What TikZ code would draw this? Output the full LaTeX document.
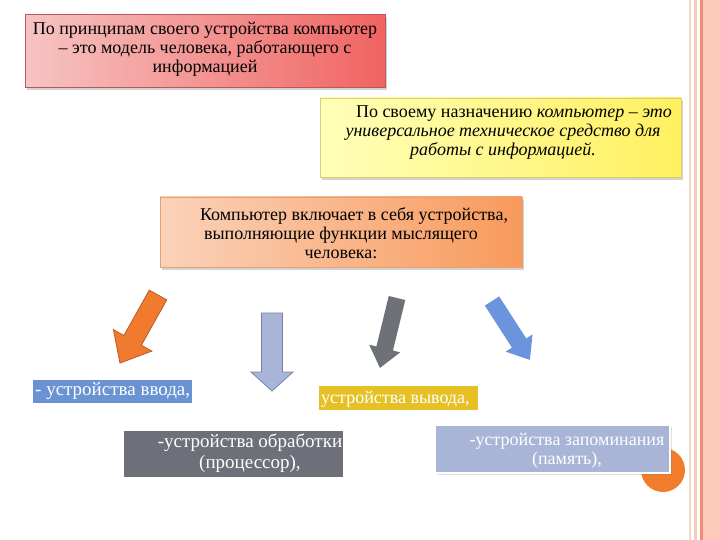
\documentclass[tikz,border=0pt]{standalone}
\usepackage{fontspec}
\setmainfont{Liberation Serif}
\usetikzlibrary{shadows,calc}
\definecolor{redL}{HTML}{F6C4C2}
\definecolor{redR}{HTML}{F06462}
\definecolor{redB}{HTML}{B85858}
\definecolor{yelL}{HTML}{FFFFB8}
\definecolor{yelR}{HTML}{FFF060}
\definecolor{yelB}{HTML}{D8D070}
\definecolor{orgL}{HTML}{FAD2BA}
\definecolor{orgR}{HTML}{F89A5C}
\definecolor{orgB}{HTML}{E8A070}
\definecolor{inBlue}{HTML}{6A93D4}
\definecolor{outGold}{HTML}{E6C126}
\definecolor{procGray}{HTML}{6E7079}
\definecolor{memLav}{HTML}{A9B5D6}
\definecolor{arOrange}{HTML}{F07A2E}
\definecolor{arOrangeB}{HTML}{C05A20}
\definecolor{arLav}{HTML}{A9B5D8}
\definecolor{arLavB}{HTML}{7880A8}
\definecolor{arGray}{HTML}{6E7278}
\definecolor{arBlue}{HTML}{6A94DC}
\definecolor{stripeA}{HTML}{F2D8CA}
\definecolor{stripeB}{HTML}{F4CDBE}
\definecolor{stripeC}{HTML}{F08C74}
\definecolor{stripeD}{HTML}{FCCABA}
\definecolor{circOrange}{HTML}{F27C2A}
\newcommand\fatarrow[8]{%
  \begin{scope}[shift={(#1,#2)}, rotate=#3]
    \path[#8] (0,-#5) -- ({#4-#7},-#5) -- ({#4-#7},-#6) -- (#4,0)
      -- ({#4-#7},#6) -- ({#4-#7},#5) -- (0,#5) -- cycle;
  \end{scope}}
\tikzset{
  txt/.style={font=\fontsize{18}{19}\selectfont, align=center, inner sep=0pt},
  txtb/.style={font=\fontsize{19}{21}\selectfont, align=center, inner sep=0pt},
  bigbox/.style={rectangle, draw, line width=0.6pt, inner sep=0pt,
    drop shadow={opacity=0.35, shadow xshift=2pt, shadow yshift=-3pt}},
  flatbox/.style={rectangle, inner sep=0pt, draw=white, line width=1pt},
}
\begin{document}
\begin{tikzpicture}[x=1pt,y=-1pt]
\useasboundingbox (0,0) rectangle (720,540);
\fill[white] (0,0) rectangle (720,540);
% right decorative stripes
\fill[stripeA] (689,0) rectangle (691,540);
\fill[stripeB] (694,0) rectangle (697,540);
\fill[stripeC] (700,0) rectangle (703,540);
\fill[stripeD] (703,0) rectangle (720,540);

% top boxes
\node[bigbox, draw=redB, left color=redL, right color=redR,
  minimum width=360pt, minimum height=73pt] (b1) at (205,51) {};
\node[txt] (t1) at (205,49) {По принципам своего устройства компьютер\\– это модель человека, работающего с\\информацией};

\node[bigbox, draw=yelB, left color=yelL, right color=yelR,
  minimum width=361pt, minimum height=79pt] (b2) at (500.5,137.5) {};
\node[txt] (t2) at (503,133) {\hspace*{22pt}По своему назначению \textit{компьютер – это}\\\textit{универсальное техническое средство для}\\\textit{работы с информацией.}};

\node[bigbox, draw=orgB, left color=orgL, right color=orgR,
  minimum width=362pt, minimum height=70pt] (b3) at (341,232) {};
\node[txt] (t3) at (341,233) {\hspace*{26pt}Компьютер включает в себя устройства,\\выполняющие функции мыслящего\\человека:};

% arrows
\fatarrow{158}{295}{-119.2}{78}{10}{22}{26}{fill=arOrange, draw=arOrangeB, line width=0.8pt}
\fatarrow{272}{313}{-90}{78}{10.5}{21}{19}{fill=arLav, draw=arLavB, line width=0.8pt}
\fatarrow{397}{298}{-103.7}{72}{8.5}{16}{20}{fill=arGray}
\fatarrow{492}{301}{-57.2}{70}{8.5}{16}{20}{fill=arBlue}

% bottom boxes
\node[flatbox, fill=inBlue, minimum width=160pt, minimum height=24pt] (b4) at (112.5,391) {};
\node[txtb, text=white, anchor=west] (t4) at (35,391) {- устройства ввода,};

\node[flatbox, fill=outGold, minimum width=160pt, minimum height=25pt] (b5) at (398,397.5) {};
\node[txt, text=white, anchor=west] (t5) at (321,399) {устройства вывода,};

\node[flatbox, fill=procGray, minimum width=220pt, minimum height=47pt] (b6) at (233,453.5) {};
\node[txtb, text=white] (t6) at (250,453) {-устройства обработки\\(процессор),};

\fill[circOrange] (663,470) circle (22);
\node[flatbox, line width=2pt, fill=memLav, minimum width=235pt, minimum height=48pt,
  drop shadow={opacity=0.25, shadow xshift=1.5pt, shadow yshift=-1.5pt}] (b7) at (552.5,449) {};
\node[txt, text=white] (t7) at (567,451) {-устройства запоминания\\(память),};
\end{tikzpicture}
\end{document}
